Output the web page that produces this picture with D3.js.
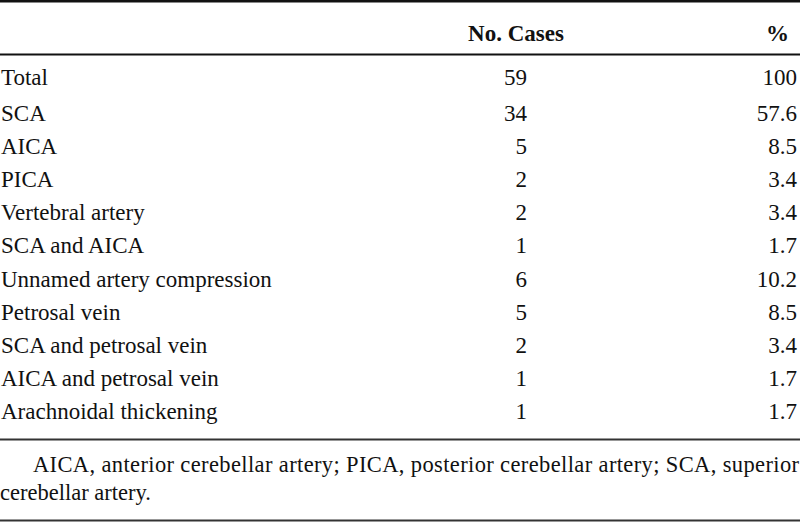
<!DOCTYPE html>
<html>
<head>
<meta charset="utf-8">
<script src="https://cdn.jsdelivr.net/npm/d3@7"></script>
<style>
  body { margin: 0; background: #fff; }
  svg { display: block; }
  text { font-family: "Liberation Serif", "Times New Roman", serif; fill: #111; }
</style>
</head>
<body>
<svg id="tbl" width="800" height="524"></svg>
<script>
var categories = ["Total", "SCA", "AICA", "PICA", "Vertebral artery", "SCA and AICA",
    "Unnamed artery compression", "Petrosal vein", "SCA and petrosal vein",
    "AICA and petrosal vein", "Arachnoidal thickening"]
var cases = [59, 34, 5, 2, 2, 1, 6, 5, 2, 1, 1]
var percents = ["100", "57.6", "8.5", "3.4", "3.4", "1.7", "10.2", "8.5", "3.4", "1.7", "1.7"]
var headers = ["No. Cases", "%"]
var footnote = ["AICA, anterior cerebellar artery; PICA, posterior cerebellar artery; SCA, superior",
    "cerebellar artery."]

var svg = d3.select("#tbl")
var fontSize = 23

// row baselines: the Total row sits a little apart from the rest
var yRows = d3.scalePoint()
    .domain(categories.slice(1))
    .range([121, 419])
var yOf = function(d) { return d === "Total" ? 85 : yRows(d) }

// horizontal rules
var rules = [{y: 1.3, w: 2.4, c: "#111"}, {y: 54.5, w: 2.2, c: "#111"},
             {y: 439.5, w: 2, c: "#333"}, {y: 520.5, w: 2, c: "#333"}]
svg.selectAll("line.rule")
    .data(rules)
    .enter()
    .append("line")
        .attr("class", "rule")
        .attr("x1", 0)
        .attr("x2", 800)
        .attr("y1", d => d.y)
        .attr("y2", d => d.y)
        .attr("stroke", d => d.c)
        .attr("stroke-width", d => d.w)

// header
svg.append("text")
    .attr("x", 516)
    .attr("y", 41)
    .attr("text-anchor", "middle")
    .style("font-weight", "bold")
    .style("font-size", fontSize + "px")
    .text(headers[0])
svg.append("text")
    .attr("x", 789)
    .attr("y", 41)
    .attr("text-anchor", "end")
    .style("font-weight", "bold")
    .style("font-size", fontSize + "px")
    .text(headers[1])

// row labels
svg.selectAll("text.label")
    .data(categories)
    .enter()
    .append("text")
        .attr("class", "label")
        .attr("x", 1)
        .attr("y", d => yOf(d))
        .style("font-size", fontSize + "px")
        .text(d => d)

// cases column
svg.selectAll("text.cases")
    .data(cases)
    .enter()
    .append("text")
        .attr("class", "cases")
        .attr("x", 527)
        .attr("y", (d, i) => yOf(categories[i]))
        .attr("text-anchor", "end")
        .style("font-size", fontSize + "px")
        .text(d => d)

// percent column
svg.selectAll("text.pct")
    .data(percents)
    .enter()
    .append("text")
        .attr("class", "pct")
        .attr("x", 797)
        .attr("y", (d, i) => yOf(categories[i]))
        .attr("text-anchor", "end")
        .style("font-size", fontSize + "px")
        .text(d => d)

// footnote
svg.append("text")
    .attr("x", 33)
    .attr("y", 472)
    .attr("textLength", 766)
    .attr("lengthAdjust", "spacing")
    .style("font-size", "22.5px")
    .text(footnote[0])
svg.append("text")
    .attr("x", 0)
    .attr("y", 500)
    .style("font-size", "22.5px")
    .text(footnote[1])
</script>
</body>
</html>
